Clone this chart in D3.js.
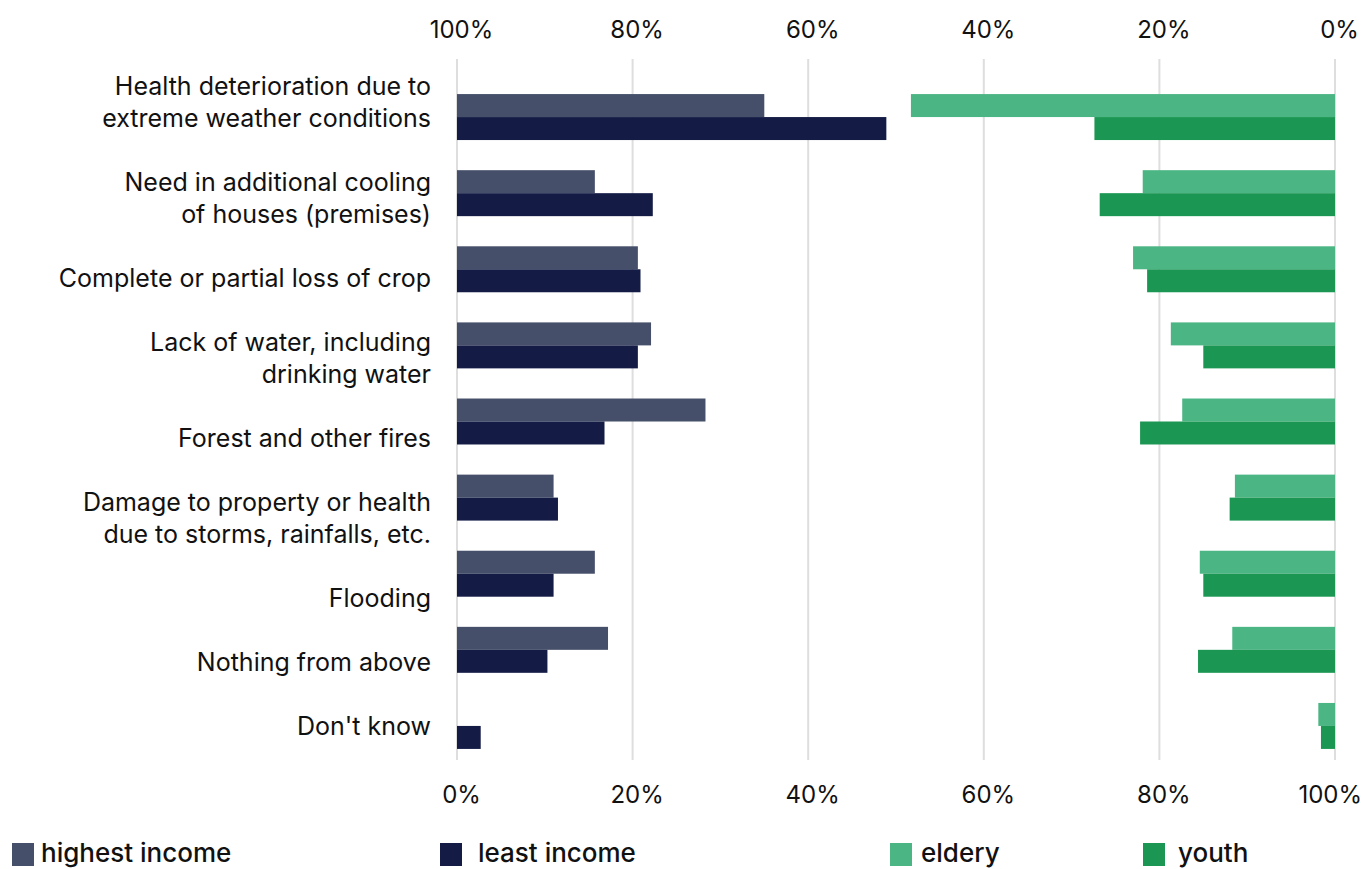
<!DOCTYPE html>
<html>
<head>
<meta charset="utf-8">
<script src="https://cdn.jsdelivr.net/npm/d3@7/dist/d3.min.js"></script>
<style>
  html, body { margin: 0; padding: 0; background: #fff; }
  svg { display: block; font-family: Inter, "Noto Sans", sans-serif; }
</style>
</head>
<body>
<svg id="chart" width="1369" height="869"></svg>
<script>
// Category labels, one entry per wrapped line
const categoryLines = [
  ["Health deterioration due to", "extreme weather conditions"],
  ["Need in additional cooling", "of houses (premises)"],
  ["Complete or partial loss of crop"],
  ["Lack of water, including", "drinking water"],
  ["Forest and other fires"],
  ["Damage to property or health", "due to storms, rainfalls, etc."],
  ["Flooding"],
  ["Nothing from above"],
  ["Don't know"]
];
const categories = categoryLines.map(l => l.join(" "));

// Shares of respondents, %
const highestIncome = [35.0, 15.7, 20.6, 22.1, 28.3, 11.0, 15.7, 17.2, 0];
const leastIncome   = [48.9, 22.3, 20.9, 20.6, 16.8, 11.5, 11.0, 10.3, 2.7];
const eldery        = [48.3, 21.9, 23.0, 18.7, 17.4, 11.4, 15.4, 11.7, 1.9];
const youth         = [27.4, 26.8, 21.4, 15.0, 22.2, 12.0, 15.0, 15.6, 1.6];

const tickValues = [0, 20, 40, 60, 80, 100];
const seriesNames = ["highest income", "least income", "eldery", "youth"];

const colors = {
  "highest income": "#454F69",
  "least income": "#141C46",
  "eldery": "#4CB584",
  "youth": "#1B9753"
};

const width = 1369;
const svg = d3.select("#chart");
const plotLeft = 457, plotRight = 1335;
const gridTop = 59, gridBottom = 760;

// Income groups grow rightwards from the left edge, age groups leftwards from the right edge
const xLeft = d3.scaleLinear().domain([0, 100]).range([plotLeft, plotRight]);
const xRight = d3.scaleLinear().domain([0, 100]).range([plotRight, plotLeft]);

const y = d3.scaleBand().domain(categories).range([79, 764])
  .paddingInner(0.396).paddingOuter(0.198);
const sub = d3.scaleBand().domain([0, 1]).range([0, y.bandwidth()]);

// Gridlines
svg.append("g").selectAll("line").data(tickValues).join("line")
  .attr("x1", d => xLeft(d)).attr("x2", d => xLeft(d))
  .attr("y1", gridTop).attr("y2", gridBottom)
  .attr("stroke", "#dedede").attr("stroke-width", 2);

// Axes (text only); tick labels nudged right but kept inside the frame
function styleAxis(g) {
  g.select(".domain").remove();
  g.selectAll(".tick line").remove();
  g.selectAll(".tick text")
    .attr("font-family", "Inter, sans-serif")
    .attr("font-size", 24)
    .attr("fill", "#111")
    .attr("dy", 0)
    .attr("dx", 4)
    .each(function () {
      const b = this.getBBox();
      const tx = +this.parentNode.getAttribute("transform").match(/translate\(([-\d.]+)/)[1];
      const overflow = tx + b.x + b.width + 4 - (width - 3);
      if (overflow > 0) d3.select(this).attr("dx", 4 - overflow);
    });
}
const fmt = d => d + "%";
svg.append("g")
  .attr("transform", "translate(0, 38)")
  .call(d3.axisTop(xRight).tickValues(tickValues).tickFormat(fmt).tickSize(0).tickPadding(0))
  .call(styleAxis);
svg.append("g")
  .attr("transform", "translate(0, 803)")
  .call(d3.axisBottom(xLeft).tickValues(tickValues).tickFormat(fmt).tickSize(0).tickPadding(0))
  .call(styleAxis);

// Bars
const leftSeries = [highestIncome, leastIncome];
const rightSeries = [eldery, youth];

leftSeries.forEach((vals, s) => {
  svg.append("g").selectAll("rect").data(vals).join("rect")
    .attr("x", xLeft(0))
    .attr("y", (d, i) => y(categories[i]) + sub(s))
    .attr("width", d => xLeft(d) - xLeft(0))
    .attr("height", sub.bandwidth())
    .attr("fill", colors[seriesNames[s]]);
});
rightSeries.forEach((vals, s) => {
  svg.append("g").selectAll("rect").data(vals).join("rect")
    .attr("x", d => xRight(d))
    .attr("y", (d, i) => y(categories[i]) + sub(s))
    .attr("width", d => xRight(0) - xRight(d))
    .attr("height", sub.bandwidth())
    .attr("fill", colors[seriesNames[s + 2]]);
});

// Category labels, stacked as a text column
const lineHeight = 32, labelGap = 32;
let labelTop = 70.5;
const labelG = svg.append("g")
  .attr("font-family", "Inter, sans-serif")
  .attr("font-size", 25)
  .attr("fill", "#111")
  .attr("text-anchor", "end");
categoryLines.forEach(lines => {
  lines.forEach((line, j) => {
    labelG.append("text")
      .attr("x", 431)
      .attr("y", labelTop + 24.5 + j * lineHeight)
      .text(line);
  });
  labelTop += lines.length * lineHeight + labelGap;
});

// Legend
const legendX = [12, 440, 890, 1143];
const legendGap = [7, 16, 9, 13];
const legend = svg.append("g")
  .attr("font-family", "Inter, sans-serif")
  .attr("font-size", 26)
  .attr("font-weight", 500)
  .attr("fill", "#111");
seriesNames.forEach((name, i) => {
  legend.append("rect")
    .attr("x", legendX[i]).attr("y", 843)
    .attr("width", 22).attr("height", 23)
    .attr("fill", colors[name]);
  legend.append("text")
    .attr("x", legendX[i] + 22 + legendGap[i])
    .attr("y", 862)
    .text(name);
});
</script>
</body>
</html>
